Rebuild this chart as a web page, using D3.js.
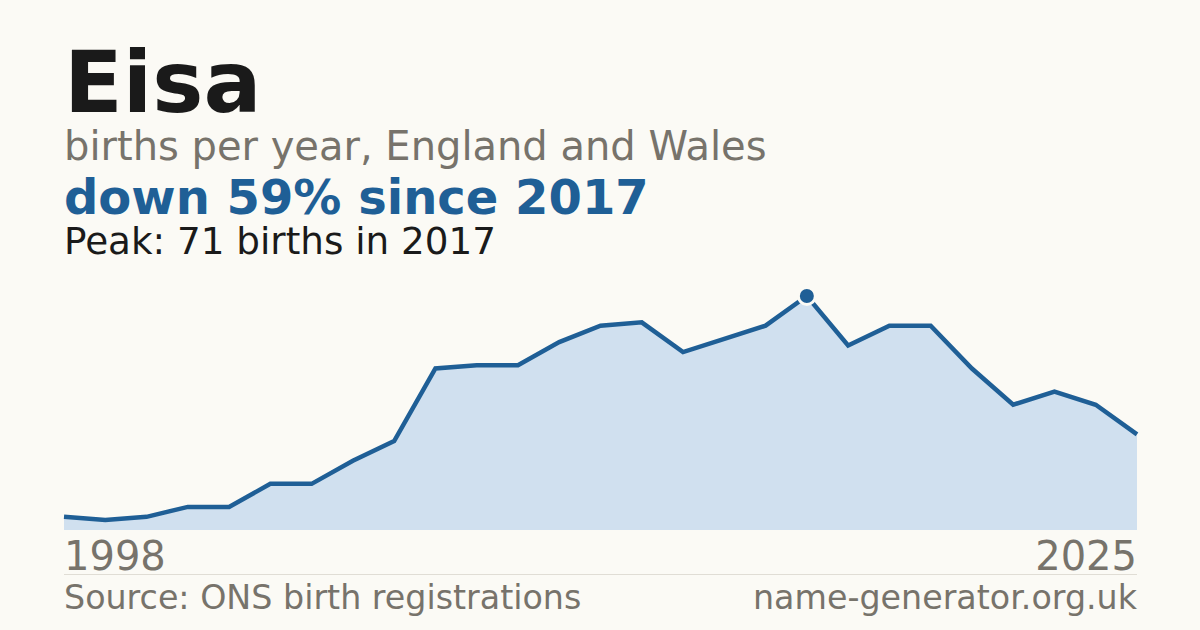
<!DOCTYPE html>
<html>
<head>
<meta charset="utf-8">
<script src="https://cdn.jsdelivr.net/npm/d3@7"></script>
<style>
  html, body { margin: 0; padding: 0; background: #fbfaf5; }
  svg { display: block; font-family: 'DejaVu Sans', sans-serif; }
</style>
</head>
<body>
<div id="chart"></div>
<script>
const years = [1999, 2000, 2001, 2002, 2003, 2004, 2005, 2006, 2007, 2008,
  2009, 2010, 2011, 2012, 2013, 2014, 2015, 2016, 2017, 2018, 2019, 2020,
  2021, 2022, 2023, 2024, 2025]
const births = [4, 3, 4, 7, 7, 14, 14, 21, 27, 49, 50, 50, 57, 62, 63, 54,
  58, 62, 71, 56, 62, 62, 49, 38, 42, 38, 29]
const tickLabels = ['1998', '2025']

const W = 1200
const H = 630
const left = 64
const right = 1137
const base = 530

const blue = '#1f5f96'
const grey = '#77736b'

const svg = d3.select('#chart').append('svg').attr('width', W).attr('height', H)

svg.append('rect').attr('width', W).attr('height', H).attr('fill', '#fbfaf5')

const x = d3.scaleLinear([0, years.length - 1], [left, right])
const y = d3.scaleLinear([0, d3.max(births)], [base, 296])

const peakIdx = births.indexOf(d3.max(births))
const last = births[births.length - 1]
const drop = Math.round((1 - last / births[peakIdx]) * 100)

// headings
svg.append('text').attr('x', left).attr('y', 112)
  .attr('font-size', 86).attr('font-weight', 'bold').attr('fill', '#1a1a1a')
  .text('Eisa')
svg.append('text').attr('x', left).attr('y', 160)
  .attr('font-size', 40).attr('fill', grey)
  .text('births per year, England and Wales')
svg.append('text').attr('x', left).attr('y', 214)
  .attr('font-size', 48).attr('font-weight', 'bold').attr('fill', blue)
  .text(`down ${drop}% since ${years[peakIdx]}`)
svg.append('text').attr('x', left).attr('y', 254)
  .attr('font-size', 37.3).attr('fill', '#1a1a1a')
  .text(`Peak: ${births[peakIdx]} births in ${years[peakIdx]}`)

// area + line
const area = d3.area().x((d, i) => x(i)).y0(base).y1((d) => y(d))
const line = d3.line().x((d, i) => x(i)).y((d) => y(d))

svg.append('path').datum(births).attr('d', area).attr('fill', '#d0e0ef')
svg.append('path').datum(births).attr('d', line)
  .attr('fill', 'none').attr('stroke', blue).attr('stroke-width', 4.5)
  .attr('stroke-linejoin', 'miter')

svg.append('circle')
  .attr('cx', x(peakIdx)).attr('cy', y(births[peakIdx])).attr('r', 8.5)
  .attr('fill', blue).attr('stroke', '#fbfaf5').attr('stroke-width', 3)

// year labels
svg.selectAll('text.yr').data(tickLabels).enter().append('text')
  .attr('class', 'yr')
  .attr('x', (d, i) => (i === 0 ? left : right))
  .attr('y', 570)
  .attr('text-anchor', (d, i) => (i === 0 ? 'start' : 'end'))
  .attr('font-size', 40).attr('fill', grey)
  .text((d) => d)

// footer
svg.append('line').attr('x1', left).attr('x2', right)
  .attr('y1', 574.5).attr('y2', 574.5)
  .attr('stroke', '#e0ddd5').attr('stroke-width', 1)
svg.append('text').attr('x', left).attr('y', 609)
  .attr('font-size', 33.3).attr('fill', grey)
  .text('Source: ONS birth registrations')
svg.append('text').attr('x', right).attr('y', 609).attr('text-anchor', 'end')
  .attr('font-size', 33.3).attr('fill', grey)
  .text('name-generator.org.uk')
</script>
</body>
</html>
